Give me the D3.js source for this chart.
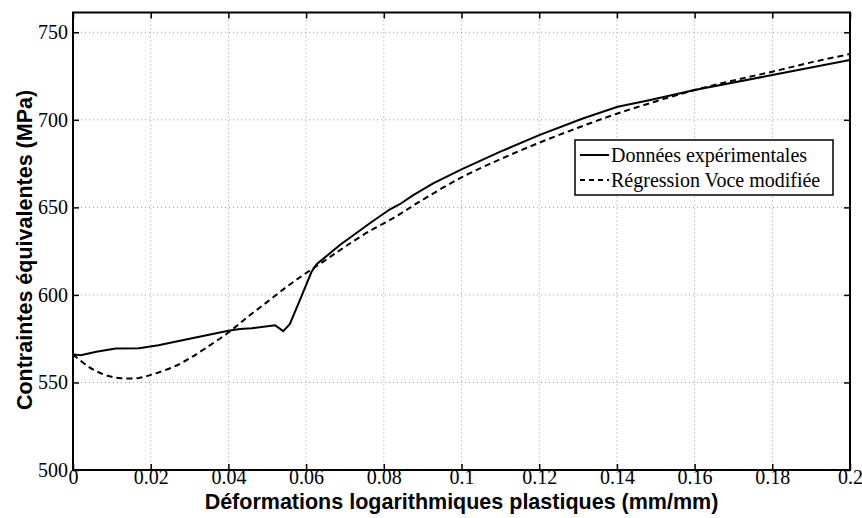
<!DOCTYPE html>
<html><head><meta charset="utf-8">
<script src="https://cdn.jsdelivr.net/npm/d3@7"></script>
<style>body{margin:0;background:#fff}svg{display:block}</style>
</head><body><svg id="c" width="862" height="518"></svg>
<script>
const xTicks = [0,0.02,0.04,0.06,0.08,0.1,0.12,0.14,0.16,0.18,0.2];
const yTicks = [500,550,600,650,700,750];
const expX = [0,0.002,0.006,0.011,0.017,0.022,0.030,0.040,0.043,0.046,0.052,0.0541,0.0558,0.0584,0.0614,0.0627,0.0687,0.0764,0.0816,0.0841,0.0876,0.0927,0.1,0.11,0.12,0.1314,0.1402,0.1486,0.16,0.18,0.2];
const expY = [566,565.5,567.5,569.4,569.5,571.3,575,579.5,580.5,581,582.7,579.3,583.3,597,613.2,617.5,628.5,640.9,648.9,651.8,657,663.7,671.7,681.8,691.3,700.9,707.5,711.3,717,725.6,734.2];
const regX = [0,0.004,0.008,0.012,0.017,0.021,0.026,0.030,0.034,0.040,0.045,0.050,0.055,0.060,0.065,0.070,0.076,0.083,0.089,0.1,0.11,0.12,0.13,0.14,0.15,0.16,0.17,0.18,0.19,0.2];
const regY = [566,559,554.5,552.5,552.6,555,559,563.7,569.4,578.5,587.5,596,604.6,612.5,619.9,627.5,636,644.6,653,667.1,677.5,686.9,695.5,703.5,710.5,717,722.5,727.5,732.8,737.6];
const legendLabels = ["Données expérimentales","Régression Voce modifiée"];
const xTitle = "Déformations logarithmiques plastiques (mm/mm)";
const yTitle = "Contraintes équivalentes (MPa)";

const L=73, R=850, T=12.5, B=470;
const svg = d3.select("#c");
const x = d3.scaleLinear().domain([0,0.2]).range([L,R]);
const y = d3.scaleLinear().domain([500,761.3]).range([B,T]);

// grid
const g = svg.append("g");
g.selectAll(".vg").data(xTicks.slice(1,-1)).enter().append("line")
 .attr("x1",d=>x(d)).attr("x2",d=>x(d)).attr("y1",T).attr("y2",B)
 .attr("stroke","#999").attr("stroke-width",1).attr("stroke-dasharray","1,3");
g.selectAll(".hg").data(yTicks.slice(1)).enter().append("line")
 .attr("x1",L).attr("x2",R).attr("y1",d=>y(d)).attr("y2",d=>y(d))
 .attr("stroke","#999").attr("stroke-width",1).attr("stroke-dasharray","1,3");

// axes with inward ticks
const fmt = d=> d===0?"0":String(d);
const xa = svg.append("g").attr("transform",`translate(0,${B})`)
 .call(d3.axisBottom(x).tickValues(xTicks).tickSizeInner(-6).tickSizeOuter(0).tickFormat(fmt));
const xt = svg.append("g").attr("transform",`translate(0,${T})`)
 .call(d3.axisTop(x).tickValues(xTicks).tickSizeInner(-6).tickSizeOuter(0).tickFormat(""));
const ya = svg.append("g").attr("transform",`translate(${L},0)`)
 .call(d3.axisLeft(y).tickValues(yTicks).tickSizeInner(-6).tickSizeOuter(0).tickPadding(5));
const yr = svg.append("g").attr("transform",`translate(${R},0)`)
 .call(d3.axisRight(y).tickValues(yTicks).tickSizeInner(-6).tickSizeOuter(0).tickFormat(""));
[xa,xt,ya,yr].forEach(a=>{
  a.select(".domain").remove();
  a.selectAll(".tick line").attr("stroke","#000").attr("stroke-width",1.5);
  a.selectAll("text").attr("font-family","'Liberation Serif', serif").attr("font-size",20).attr("fill","#000");
});
xa.selectAll("text").attr("y",14).attr("dy","0");
// frame
svg.append("rect").attr("x",L).attr("y",T).attr("width",R-L).attr("height",B-T)
 .attr("fill","none").attr("stroke","#000").attr("stroke-width",2);

// lines
svg.append("clipPath").attr("id","cp").append("rect").attr("x",L).attr("y",T).attr("width",R-L).attr("height",B-T);
const reg = regX.map((v,i)=>[v,regY[i]]);
const exp = expX.map((v,i)=>[v,expY[i]]);
svg.append("path").datum(reg).attr("clip-path","url(#cp)")
 .attr("d",d3.line().x(d=>x(d[0])).y(d=>y(d[1])).curve(d3.curveCatmullRom.alpha(0.5)))
 .attr("fill","none").attr("stroke","#000").attr("stroke-width",2).attr("stroke-dasharray","6,4");
svg.append("path").datum(exp).attr("clip-path","url(#cp)")
 .attr("d",d3.line().x(d=>x(d[0])).y(d=>y(d[1])))
 .attr("fill","none").attr("stroke","#000").attr("stroke-width",2);

// legend
const lg = svg.append("g");
lg.append("rect").attr("x",575).attr("y",140).attr("width",258).attr("height",55)
 .attr("fill","#fff").attr("stroke","#000").attr("stroke-width",1.5);
[0,1].forEach(i=>{
  const yy = 155 + i*25;
  lg.append("line").attr("x1",580).attr("x2",609).attr("y1",yy).attr("y2",yy)
   .attr("stroke","#000").attr("stroke-width",2).attr("stroke-dasharray",i?"5,4":null);
  lg.append("text").attr("x",611).attr("y",yy).attr("dy","0.35em")
   .attr("font-family","'Liberation Serif', serif").attr("font-size",20).text(legendLabels[i]);
});

// titles
svg.append("text").attr("x",(L+R)/2).attr("y",508.5).attr("text-anchor","middle")
 .attr("font-family","'Liberation Sans', Arial, sans-serif").attr("font-weight","bold").attr("font-size",21.5)
 .text(xTitle);
svg.append("text").attr("transform",`translate(32,250) rotate(-90)`).attr("text-anchor","middle")
 .attr("font-family","'Liberation Sans', Arial, sans-serif").attr("font-weight","bold").attr("font-size",21.5)
 .text(yTitle);
</script></body></html>
